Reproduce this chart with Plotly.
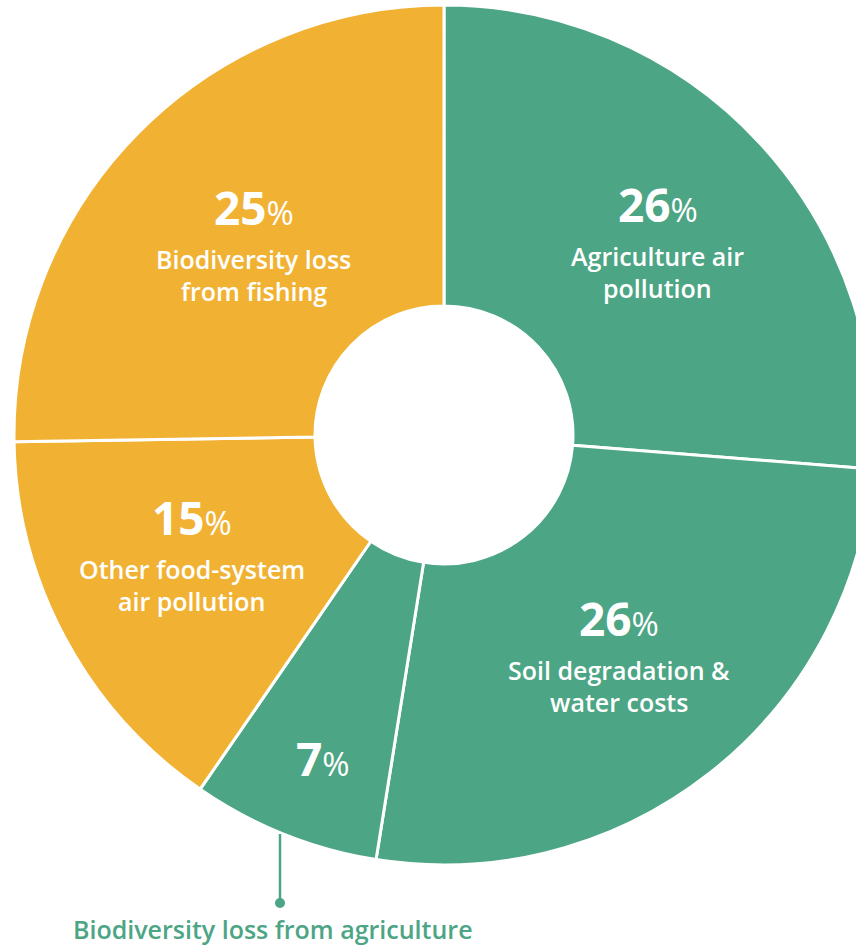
import math
import plotly.graph_objects as go

# ---- data ----
values = [26, 26, 7, 15, 25]
labels = ["Agriculture air<br>pollution", "Soil degradation &<br>water costs",
          "Biodiversity loss from agriculture", "Other food-system<br>air pollution",
          "Biodiversity loss<br>from fishing"]
show_label_inside = [True, True, False, True, True]
colors = ["#4CA584", "#4CA584", "#4CA584", "#F1B234", "#F1B234"]
text_radius = [0.67, 0.67, 0.81, 0.655, 0.62]  # fraction of outer radius for text block
text_dx = [2, -3, 8, -4, 0]     # small pixel nudges
text_dy = [5, -2, 0, -10, 0]

# ---- layout constants (pixels) ----
W, H = 888, 945
CX, CY, R = 444, 435, 430
GREEN = "#4CA584"
FONT = "Open Sans"

fig = go.Figure(go.Pie(
    values=values,
    labels=[l.replace("<br>", " ") for l in labels],
    sort=False,
    direction="clockwise",
    rotation=0,
    hole=0.30,
    marker=dict(colors=colors, line=dict(color="white", width=3)),
    textinfo="none",
    hoverinfo="label+value",
    domain=dict(x=[(CX - R) / W, (CX + R) / W], y=[1 - (CY + R) / H, 1 - (CY - R) / H]),
    showlegend=False,
))

annotations = []
total = sum(values)
cum = 0
for v, lab, inside, rf, dx, dy in zip(values, labels, show_label_inside, text_radius, text_dx, text_dy):
    mid = (cum + v / 2) / total * 2 * math.pi
    cum += v
    px = CX + rf * R * math.sin(mid) + dx
    py = CY - rf * R * math.cos(mid) + dy
    xp, yp = px / W, 1 - py / H
    annotations.append(dict(
        x=xp, y=yp, xref="paper", yref="paper", showarrow=False,
        xanchor="center", yanchor="middle",
        yshift=41 if inside else 0,
        text=f"<b>{v}</b><span style='font-size:33px'>%</span>",
        font=dict(family=FONT, size=46, color="white"),
    ))
    if inside:
        for i, line in enumerate(lab.split("<br>")):
            annotations.append(dict(
                x=xp, y=yp, xref="paper", yref="paper", showarrow=False,
                xanchor="center", yanchor="middle",
                yshift=-(11 + 32 * i),
                text=line,
                font=dict(family=FONT, size=25, color="white", weight=600),
            ))

# callout for the small slice
LX, LY0, LY1 = 280, 834, 903
annotations.append(dict(
    x=273 / W, y=1 - 929 / H, xref="paper", yref="paper", showarrow=False,
    xanchor="center", yanchor="middle",
    text=labels[2],
    font=dict(family=FONT, size=25, color=GREEN, weight=600),
))
shapes = [
    dict(type="line", xref="paper", yref="paper",
         x0=LX / W, x1=LX / W, y0=1 - LY0 / H, y1=1 - LY1 / H,
         line=dict(color=GREEN, width=2.5)),
    dict(type="circle", xref="paper", yref="paper",
         x0=(LX - 5) / W, x1=(LX + 5) / W, y0=1 - (LY1 + 5) / H, y1=1 - (LY1 - 5) / H,
         fillcolor=GREEN, line=dict(color=GREEN, width=0)),
]

fig.update_layout(
    width=W, height=H,
    margin=dict(l=0, r=0, t=0, b=0),
    paper_bgcolor="white", plot_bgcolor="white",
    annotations=annotations, shapes=shapes,
)

fig.write_html("out.html", config={"displayModeBar": False},
               post_script="document.body.style.margin='0';document.body.style.overflow='hidden';")
